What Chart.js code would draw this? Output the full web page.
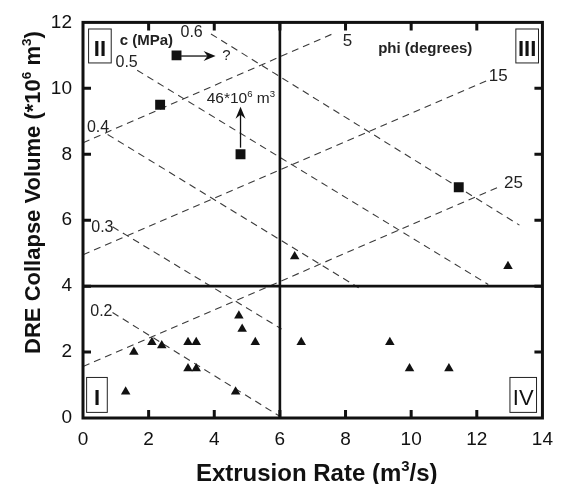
<!DOCTYPE html>
<html lang="en">
<head>
<meta charset="UTF-8">
<title>DRE Collapse Volume vs Extrusion Rate</title>
<script src="https://cdn.jsdelivr.net/npm/chart.js"></script>
<style>
  html, body { margin: 0; padding: 0; background: #fff; }
  #chart { display: block; }
</style>
</head>
<body>
<canvas id="chart" width="563" height="484"></canvas>
<script>
// axis ticks
const xTicks = [0, 2, 4, 6, 8, 10, 12, 14];
const yTicks = [0, 2, 4, 6, 8, 10, 12];

// triangles
const triX = [1.3, 1.55, 2.1, 2.4, 3.2, 3.45, 3.2, 3.45, 4.65, 4.75, 4.85, 5.25, 6.45, 6.65, 9.35, 9.95, 11.15, 12.95];
const triY = [0.8, 2.0, 2.3, 2.2, 2.3, 2.3, 1.5, 1.5, 0.8, 3.1, 2.7, 2.3, 4.9, 2.3, 2.3, 1.5, 1.5, 4.6];

// squares
const sqX = [2.85, 2.35, 4.8, 11.45];
const sqY = [11.0, 9.5, 8.0, 7.0];

// cohesion lines, c (MPa)
const cLabels = ['0.2', '0.3', '0.4', '0.5', '0.6'];
const cX0 = [0.9, 0.9, 0.75, 1.65, 3.9];
const cY0 = [3.2, 5.8, 8.6, 10.55, 11.65];
const cX1 = [6.0, 6.05, 8.4, 12.35, 13.3];
const cY1 = [0.05, 2.7, 3.95, 4.05, 5.85];

// friction angle lines, phi (degrees)
const phiLabels = ['5', '15', '25'];
const phiX0 = [0, 0, 0];
const phiY0 = [8.35, 4.95, 1.56];
const phiX1 = [7.6, 12.35, 12.65];
const phiY1 = [11.65, 10.25, 7.0];

// quadrant dividers
const splitX = 6;
const splitY = 4;

// where the annotations sit (data units)
const cLabelAt = [[0.56, 3.23], [0.59, 5.77], [0.46, 8.82], [1.33, 10.77], [3.31, 11.68]];
const phiLabelAt = [[8.06, 11.44], [12.65, 10.36], [13.12, 7.11]];
const quads = [
  { t: 'I',   x0: 0.11,  x1: 0.74,  y0: 0.17,  y1: 1.23, bold: true },
  { t: 'II',  x0: 0.17,  x1: 0.86,  y0: 10.77, y1: 11.8, bold: true },
  { t: 'III', x0: 13.19, x1: 13.88, y0: 10.77, y1: 11.8, bold: true },
  { t: 'IV',  x0: 13.01, x1: 13.82, y0: 0.17,  y1: 1.23, bold: false }
];
const arrows = [[2.99, 10.98, 4.04, 10.98], [4.8, 8.2, 4.8, 9.44]];

const FONT = '"Liberation Sans", Arial, Helvetica, sans-serif';
const ink = '#111';

function seg(x0, y0, x1, y1) {
  return [{ x: x0, y: y0 }, { x: x1, y: y1 }];
}

const dashed = {
  showLine: true, pointRadius: 0, borderColor: '#3a3a3a', borderWidth: 1.1,
  borderDash: [7, 5], fill: false, tension: 0
};

const datasets = [
  {
    label: 'triangles',
    data: triX.map((x, i) => ({ x, y: triY[i] })),
    pointStyle: 'triangle', pointRadius: 5.5, borderWidth: 0,
    backgroundColor: ink, borderColor: ink
  },
  {
    label: 'squares',
    data: sqX.map((x, i) => ({ x, y: sqY[i] })),
    pointStyle: 'rect', pointRadius: 7, borderWidth: 0,
    backgroundColor: ink, borderColor: ink
  },
  { label: 'splitX', data: seg(splitX, 0, splitX, 12), showLine: true, pointRadius: 0, borderColor: ink, borderWidth: 2.6 },
  { label: 'splitY', data: seg(0, splitY, 14, splitY), showLine: true, pointRadius: 0, borderColor: ink, borderWidth: 2.6 }
];
cLabels.forEach((c, i) => datasets.push(Object.assign({ label: 'c ' + c, data: seg(cX0[i], cY0[i], cX1[i], cY1[i]) }, dashed)));
phiLabels.forEach((p, i) => datasets.push(Object.assign({ label: 'phi ' + p, data: seg(phiX0[i], phiY0[i], phiX1[i], phiY1[i]) }, dashed)));

// text with superscripts
function richWidth(ctx, parts, size, weight) {
  let w = 0;
  parts.forEach(p => {
    ctx.font = weight + ' ' + (p.sup ? size * 0.62 : size) + 'px ' + FONT;
    w += ctx.measureText(p.t).width;
  });
  return w;
}
function drawRich(ctx, parts, x, y, size, weight) {
  parts.forEach(p => {
    ctx.font = weight + ' ' + (p.sup ? size * 0.62 : size) + 'px ' + FONT;
    ctx.fillText(p.t, x, p.sup ? y - size * 0.4 : y);
    x += ctx.measureText(p.t).width;
  });
}

function arrow(ctx, x0, y0, x1, y1) {
  const ang = Math.atan2(y1 - y0, x1 - x0);
  const len = 12, half = 5, notch = 4;
  ctx.beginPath();
  ctx.moveTo(x0, y0);
  ctx.lineTo(x1 - Math.cos(ang) * notch, y1 - Math.sin(ang) * notch);
  ctx.stroke();
  ctx.save();
  ctx.translate(x1, y1);
  ctx.rotate(ang);
  ctx.beginPath();
  ctx.moveTo(0, 0);
  ctx.lineTo(-len, -half);
  ctx.lineTo(-len + notch, 0);
  ctx.lineTo(-len, half);
  ctx.closePath();
  ctx.fill();
  ctx.restore();
}

const overlay = {
  id: 'overlay',
  afterDatasetsDraw(chart) {
    const { ctx, chartArea: a, scales: { x, y } } = chart;
    const px = v => x.getPixelForValue(v);
    const py = v => y.getPixelForValue(v);
    ctx.save();

    // frame and inward ticks
    ctx.strokeStyle = ink;
    ctx.lineWidth = 3;
    ctx.strokeRect(a.left, a.top, a.right - a.left, a.bottom - a.top);
    ctx.beginPath();
    xTicks.slice(1, -1).forEach(v => {
      ctx.moveTo(px(v), a.bottom); ctx.lineTo(px(v), a.bottom - 8);
      ctx.moveTo(px(v), a.top); ctx.lineTo(px(v), a.top + 8);
    });
    yTicks.slice(1, -1).forEach(v => {
      ctx.moveTo(a.left, py(v)); ctx.lineTo(a.left + 8, py(v));
      ctx.moveTo(a.right, py(v)); ctx.lineTo(a.right - 8, py(v));
    });
    ctx.stroke();

    // line labels
    ctx.fillStyle = '#222';
    ctx.textAlign = 'center';
    ctx.textBaseline = 'middle';
    ctx.font = '16px ' + FONT;
    cLabels.forEach((t, i) => ctx.fillText(t, px(cLabelAt[i][0]), py(cLabelAt[i][1])));
    ctx.font = '17px ' + FONT;
    phiLabels.forEach((t, i) => ctx.fillText(t, px(phiLabelAt[i][0]), py(phiLabelAt[i][1])));

    ctx.font = 'bold 15px ' + FONT;
    ctx.fillText('c (MPa)', px(1.93), py(11.44));
    ctx.fillText('phi (degrees)', px(10.43), py(11.2));

    ctx.font = '15px ' + FONT;
    ctx.fillText('?', px(4.37), py(11.0));

    // quadrant boxes
    ctx.lineWidth = 1;
    quads.forEach(q => {
      const l = px(q.x0), r = px(q.x1), t = py(q.y1), b = py(q.y0);
      ctx.strokeStyle = '#222';
      ctx.strokeRect(l, t, r - l, b - t);
      ctx.font = (q.bold ? 'bold ' : '') + '22px ' + FONT;
      ctx.textBaseline = 'alphabetic';
      ctx.fillStyle = ink;
      ctx.fillText(q.t, (l + r) / 2, (t + b) / 2 + 10);
    });

    // arrows
    ctx.strokeStyle = ink;
    ctx.fillStyle = ink;
    ctx.lineWidth = 1.3;
    arrows.forEach(r => arrow(ctx, px(r[0]), py(r[1]), px(r[2]), py(r[3])));

    // volume note
    ctx.textAlign = 'left';
    ctx.textBaseline = 'alphabetic';
    ctx.fillStyle = '#222';
    drawRich(ctx, [{ t: '46*10' }, { t: '6', sup: true }, { t: ' m' }, { t: '3', sup: true }], px(3.77), py(9.56), 15.5, 'normal');

    // axis titles
    ctx.fillStyle = ink;
    const xt = [{ t: 'Extrusion Rate (m' }, { t: '3', sup: true }, { t: '/s)' }];
    const xw = richWidth(ctx, xt, 24, 'bold');
    drawRich(ctx, xt, (a.left + a.right) / 2 + 4 - xw / 2, 481, 24, 'bold');

    const yt = [{ t: 'DRE Collapse Volume (*10' }, { t: '6', sup: true }, { t: ' m' }, { t: '3', sup: true }, { t: ')' }];
    const yw = richWidth(ctx, yt, 22, 'bold');
    ctx.translate(40, 192.5);
    ctx.rotate(-Math.PI / 2);
    drawRich(ctx, yt, -yw / 2, 0, 22, 'bold');

    ctx.restore();
  }
};

const tickFont = { family: FONT, size: 19 };

new Chart(document.getElementById('chart').getContext('2d'), {
  type: 'scatter',
  data: { datasets },
  options: {
    responsive: false,
    animation: false,
    layout: { padding: { left: 0, right: 12, top: 22, bottom: 0 } },
    plugins: { legend: { display: false }, tooltip: { enabled: false } },
    scales: {
      x: {
        type: 'linear', min: 0, max: 14,
        afterBuildTicks: s => { s.ticks = xTicks.map(v => ({ value: v })); },
        afterFit: s => { s.height = 66; },
        grid: { display: false, drawTicks: false },
        border: { display: false },
        ticks: { font: tickFont, color: ink, padding: 10, maxRotation: 0, autoSkip: false }
      },
      y: {
        type: 'linear', min: 0, max: 12,
        afterBuildTicks: s => { s.ticks = yTicks.map(v => ({ value: v })); },
        afterFit: s => { s.width = 83; },
        grid: { display: false, drawTicks: false },
        border: { display: false },
        ticks: { font: tickFont, color: ink, padding: 11, autoSkip: false }
      }
    }
  },
  plugins: [overlay]
});
</script>
</body>
</html>
